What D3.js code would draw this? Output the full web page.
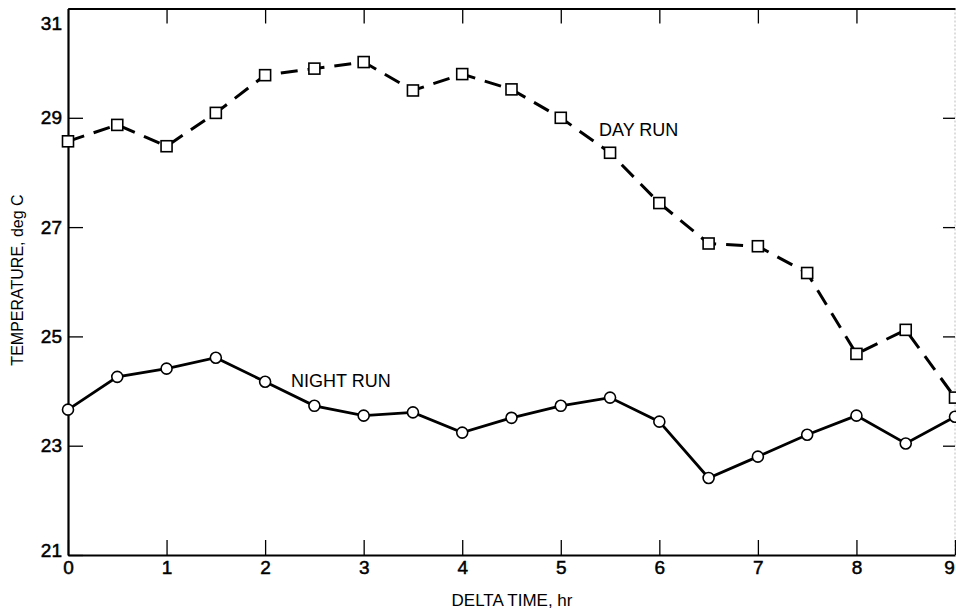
<!DOCTYPE html>
<html>
<head>
<meta charset="utf-8">
<script src="https://cdn.jsdelivr.net/npm/d3@7"></script>
<style>
  body { margin: 0; background: #fff; }
  svg { font-family: "Liberation Sans", Arial, sans-serif; }
</style>
</head>
<body>
<div id="chart-area"></div>
<script>
// data
const hours = [0, 0.5, 1, 1.5, 2, 2.5, 3, 3.5, 4, 4.5, 5, 5.5, 6, 6.5, 7, 7.5, 8, 8.5, 9]
const dayRun = [28.57, 28.87, 28.48, 29.09, 29.78, 29.9, 30.02, 29.5, 29.8, 29.52, 29.0, 28.36,
  27.44, 26.7, 26.65, 26.16, 24.68, 25.12, 23.88]
const nightRun = [23.66, 24.26, 24.41, 24.61, 24.17, 23.73, 23.55, 23.61, 23.24, 23.51, 23.73, 23.88,
  23.44, 22.41, 22.8, 23.2, 23.55, 23.04, 23.53]
const xTicks = [0, 1, 2, 3, 4, 5, 6, 7, 8, 9]
const yTicks = [21, 23, 25, 27, 29, 31]

const W = 956
const H = 614
const LEFT = 68, RIGHT = 955, TOP = 8.5, BOTTOM = 555

const svg = d3.select("#chart-area").append("svg")
  .attr("width", W)
  .attr("height", H)

// Scales
const x = d3.scaleLinear().domain([0, 9]).range([LEFT, RIGHT])
const y = d3.scaleLinear().domain([21, 31]).range([BOTTOM, TOP])

// Frame (right edge is faint in the scan)
svg.append("line")
  .attr("x1", RIGHT).attr("x2", RIGHT).attr("y1", TOP).attr("y2", BOTTOM)
  .attr("stroke", "#bbb").attr("stroke-width", 1).attr("stroke-dasharray", "2,2")

// bottom axis
const xAxis = svg.append("g")
  .attr("transform", `translate(0, ${BOTTOM})`)
  .call(d3.axisBottom(x).tickValues(xTicks).tickFormat(d3.format("d"))
    .tickSizeInner(-15).tickSizeOuter(0).tickPadding(6))
// top axis
const topAxis = svg.append("g")
  .attr("transform", `translate(0, ${TOP})`)
  .call(d3.axisTop(x).tickValues(xTicks.slice(1, -1)).tickFormat("")
    .tickSizeInner(-15).tickSizeOuter(0))
// left axis
const yAxis = svg.append("g")
  .attr("transform", `translate(${LEFT}, 0)`)
  .call(d3.axisLeft(y).tickValues(yTicks).tickFormat(d3.format("d"))
    .tickSizeInner(-15).tickSizeOuter(0).tickPadding(6))
// right axis
const rightAxis = svg.append("g")
  .attr("transform", `translate(${RIGHT}, 0)`)
  .call(d3.axisRight(y).tickValues(yTicks.slice(1, -1)).tickFormat("")
    .tickSizeInner(-12).tickSizeOuter(0))

svg.selectAll(".tick line").attr("stroke", "#000").attr("stroke-width", 1.3)
xAxis.select(".domain").attr("stroke", "#000").attr("stroke-width", 2.2)
topAxis.select(".domain").attr("stroke", "#000").attr("stroke-width", 2.2)
yAxis.select(".domain").attr("stroke", "#000").attr("stroke-width", 2.2)
rightAxis.select(".domain").remove()

svg.selectAll(".tick text")
  .attr("font-size", "19px").attr("fill", "#000")
  .attr("stroke", "#000").attr("stroke-width", 0.5)
  .attr("font-family", "Liberation Sans, Arial, sans-serif")
// edge labels pulled inside the picture
xAxis.selectAll(".tick text").filter(d => d === 9).attr("dx", "-6")
yAxis.selectAll(".tick text").filter(d => d === 31).attr("dy", "1.1em")
yAxis.selectAll(".tick text").filter(d => d === 21).attr("dy", "0.1em")

// Axis titles
svg.append("text")
  .attr("x", 512).attr("y", 606)
  .attr("text-anchor", "middle")
  .attr("font-size", "17px")
  .text("DELTA TIME, hr")
svg.append("text")
  .attr("transform", "translate(23, 280) rotate(-90)")
  .attr("text-anchor", "middle")
  .attr("font-size", "16px")
  .text("TEMPERATURE, deg C")

// Lines
const dayData = hours.map((h, i) => ({ h: h, v: dayRun[i] }))
const nightData = hours.map((h, i) => ({ h: h, v: nightRun[i] }))
const line = d3.line().x(d => x(d.h)).y(d => y(d.v))

svg.append("path")
  .attr("d", line(dayData))
  .attr("fill", "none").attr("stroke", "#000")
  .attr("stroke-width", 3)
  .attr("stroke-dasharray", "17,10")

svg.append("path")
  .attr("d", line(nightData))
  .attr("fill", "none").attr("stroke", "#000")
  .attr("stroke-width", 2.8)

// Markers
svg.selectAll(".sq").data(dayData).enter().append("rect")
  .attr("class", "sq")
  .attr("x", d => x(d.h) - 5.5).attr("y", d => y(d.v) - 5.5)
  .attr("width", 11).attr("height", 11)
  .attr("fill", "#fff").attr("stroke", "#000").attr("stroke-width", 1.6)

svg.selectAll(".dot").data(nightData).enter().append("circle")
  .attr("class", "dot")
  .attr("cx", d => x(d.h)).attr("cy", d => y(d.v))
  .attr("r", 5.5)
  .attr("fill", "#fff").attr("stroke", "#000").attr("stroke-width", 1.6)

// Series labels
svg.append("text")
  .attr("x", 599).attr("y", 136)
  .attr("font-size", "18px")
  .text("DAY RUN")
svg.append("text")
  .attr("x", 291).attr("y", 387)
  .attr("font-size", "18px")
  .text("NIGHT RUN")
</script>
</body>
</html>
